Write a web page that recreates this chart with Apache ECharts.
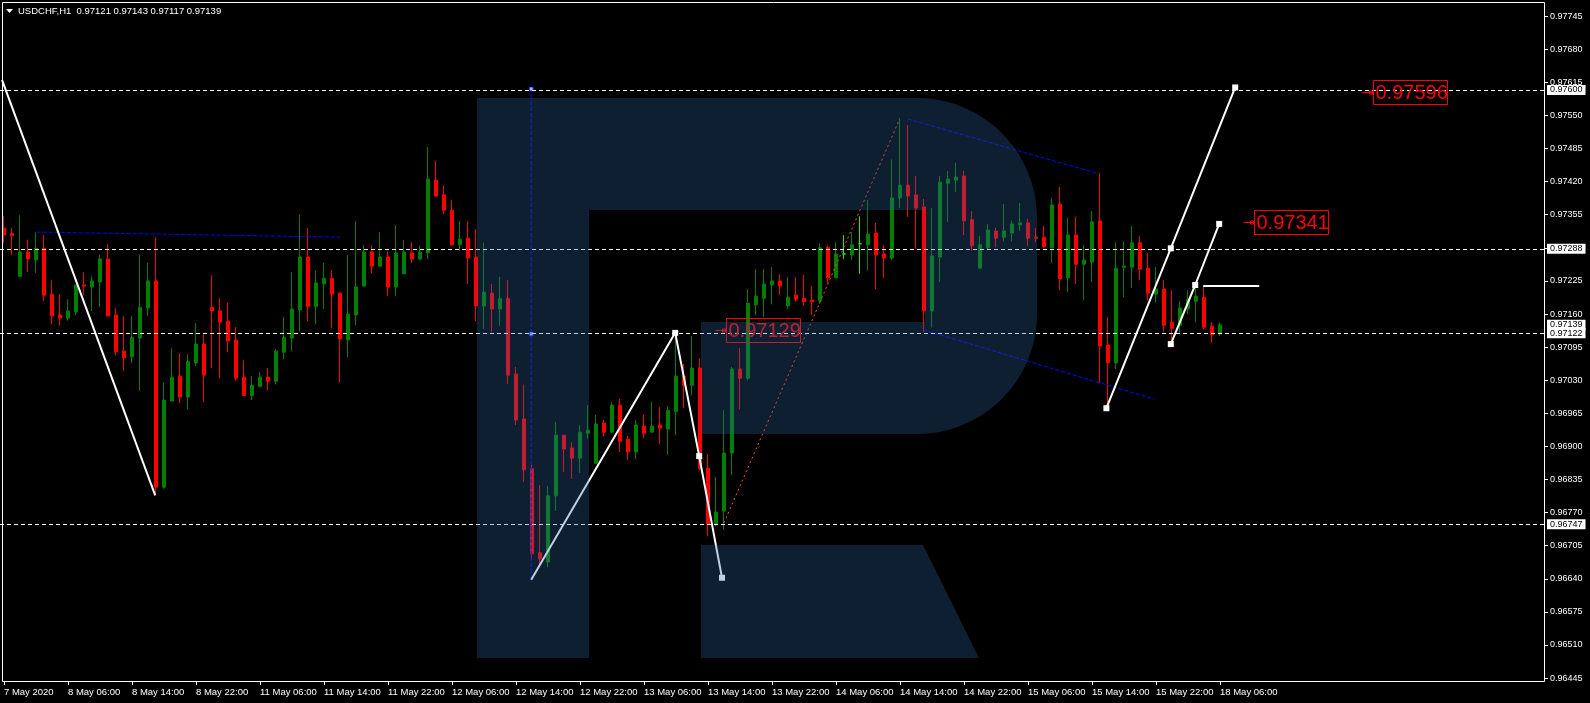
<!DOCTYPE html>
<html><head><meta charset="utf-8">
<script src="https://cdn.jsdelivr.net/npm/echarts@6/dist/echarts.min.js"></script>
<style>html,body{margin:0;padding:0;background:#000;}#c{width:1590px;height:703px;}</style>
</head><body><div id="c"></div>
<script>
// ---------- data ----------
const symbolName = 'USDCHF,H1';
const xTickLabels = ['7 May 2020','8 May 06:00','8 May 14:00','8 May 22:00','11 May 06:00','11 May 14:00','11 May 22:00','12 May 06:00','12 May 14:00','12 May 22:00','13 May 06:00','13 May 14:00','13 May 22:00','14 May 06:00','14 May 14:00','14 May 22:00','15 May 06:00','15 May 14:00','15 May 22:00','18 May 06:00'];
const yTickValues = [0.96445,0.96510,0.96575,0.96640,0.96705,0.96770,0.96835,0.96900,0.96965,0.97030,0.97095,0.97160,0.97225,0.97290,0.97355,0.97420,0.97485,0.97550,0.97615,0.97680,0.97745];

const opens = [0.97329,0.97318,0.97234,0.97282,0.97266,0.97289,0.97199,0.97158,0.97152,0.97164,0.97217,0.97213,0.97223,0.97268,0.97158,0.97087,0.97076,0.97113,0.97172,0.97225,
0.96820,0.96989,0.97038,0.96997,0.97064,0.97101,0.97173,0.97166,0.97146,0.97109,0.97036,0.97000,0.97018,0.97036,0.97028,0.97085,0.97113,0.97168,0.97272,0.97175,
0.97219,0.97230,0.97201,0.97109,0.97158,0.97215,0.97282,0.97254,0.97272,0.97213,0.97239,0.97280,0.97268,0.97280,0.97423,0.97394,0.97364,0.97296,0.97309,0.97272,
0.97176,0.97201,0.97170,0.97191,0.97042,0.96954,0.96856,0.96691,0.96673,0.96803,0.96922,0.96897,0.96877,0.96926,0.96867,0.96946,0.96928,0.96981,0.96914,0.96889,
0.96940,0.96928,0.96942,0.96934,0.96969,0.97038,0.97020,0.97054,0.96857,0.96747,0.96773,0.96887,0.97052,0.97034,0.97178,0.97191,0.97217,0.97225,0.97176,0.97197,
0.97191,0.97187,0.97186,0.97291,0.97231,0.97278,0.97276,0.97298,0.97296,0.97319,0.97278,0.97270,0.97388,0.97413,0.97394,0.97370,0.97166,0.97272,0.97417,0.97423,
0.97431,0.97345,0.97250,0.97290,0.97323,0.97311,0.97319,0.97335,0.97339,0.97311,0.97311,0.97290,0.97376,0.97231,0.97315,0.97258,0.97262,0.97343,0.97099,0.97064,
0.97252,0.97252,0.97300,0.97250,0.97199,0.97209,0.97144,0.97138,0.97170,0.97185,0.97193,0.97136,0.97121];
const closes = [0.97315,0.97314,0.97282,0.97268,0.97289,0.97197,0.97156,0.97152,0.97166,0.97217,0.97215,0.97225,0.97268,0.97156,0.97086,0.97074,0.97114,0.97173,0.97225,0.96820,
0.96991,0.97036,0.96997,0.97067,0.97101,0.97040,0.97166,0.97144,0.97107,0.97034,0.97000,0.97020,0.97036,0.97028,0.97087,0.97114,0.97170,0.97272,0.97175,0.97221,
0.97230,0.97199,0.97111,0.97160,0.97213,0.97282,0.97254,0.97272,0.97213,0.97280,0.97282,0.97268,0.97282,0.97425,0.97392,0.97364,0.97296,0.97307,0.97270,0.97176,
0.97203,0.97170,0.97190,0.97040,0.96952,0.96854,0.96689,0.96679,0.96803,0.96922,0.96895,0.96877,0.96928,0.96932,0.96944,0.96928,0.96981,0.96910,0.96889,0.96942,
0.96926,0.96940,0.96936,0.96971,0.97038,0.97020,0.97054,0.96857,0.96747,0.96771,0.96887,0.97052,0.97034,0.97181,0.97195,0.97219,0.97225,0.97215,0.97193,0.97189,
0.97184,0.97184,0.97290,0.97231,0.97278,0.97278,0.97296,0.97298,0.97317,0.97276,0.97270,0.97388,0.97413,0.97392,0.97368,0.97166,0.97274,0.97419,0.97425,0.97429,
0.97343,0.97294,0.97296,0.97325,0.97309,0.97323,0.97337,0.97339,0.97309,0.97309,0.97292,0.97374,0.97229,0.97315,0.97258,0.97266,0.97341,0.97097,0.97064,0.97250,
0.97254,0.97300,0.97248,0.97201,0.97209,0.97138,0.97132,0.97172,0.97189,0.97195,0.97134,0.97119,0.97139];
const lows = [0.97299,0.97276,0.97234,0.97243,0.97241,0.97186,0.97140,0.97137,0.97147,0.97158,0.97197,0.97166,0.97174,0.97156,0.97079,0.97048,0.97064,0.97009,0.97156,0.96804,
0.96817,0.96989,0.96985,0.96972,0.97058,0.96987,0.97054,0.97034,0.97085,0.97030,0.96999,0.96991,0.97016,0.97010,0.97022,0.97071,0.97087,0.97126,0.97146,0.97140,
0.97170,0.97132,0.97026,0.97075,0.97138,0.97213,0.97240,0.97254,0.97195,0.97195,0.97239,0.97260,0.97266,0.97268,0.97390,0.97356,0.97294,0.97284,0.97219,0.97146,
0.97131,0.97125,0.97137,0.97023,0.96942,0.96830,0.96677,0.96665,0.96663,0.96773,0.96850,0.96836,0.96848,0.96915,0.96867,0.96920,0.96926,0.96889,0.96873,0.96875,
0.96916,0.96928,0.96904,0.96883,0.96922,0.96975,0.97001,0.96853,0.96724,0.96743,0.96736,0.96844,0.96973,0.97030,0.97158,0.97154,0.97179,0.97197,0.97170,0.97185,
0.97176,0.97158,0.97180,0.97221,0.97231,0.97268,0.97266,0.97239,0.97246,0.97209,0.97231,0.97266,0.97368,0.97351,0.97288,0.97125,0.97134,0.97223,0.97341,0.97400,
0.97315,0.97284,0.97250,0.97286,0.97291,0.97303,0.97303,0.97323,0.97294,0.97301,0.97290,0.97260,0.97207,0.97203,0.97219,0.97187,0.97223,0.97024,0.96973,0.97052,
0.97193,0.97211,0.97227,0.97187,0.97183,0.97125,0.97099,0.97123,0.97160,0.97144,0.97130,0.97103,0.97117];
const highs = [0.97352,0.97329,0.97354,0.97306,0.97320,0.97315,0.97226,0.97199,0.97189,0.97217,0.97242,0.97234,0.97276,0.97297,0.97171,0.97156,0.97156,0.97276,0.97260,0.97311,
0.97026,0.97093,0.97083,0.97081,0.97142,0.97122,0.97236,0.97191,0.97183,0.97134,0.97069,0.97038,0.97046,0.97054,0.97091,0.97154,0.97242,0.97356,0.97329,0.97246,
0.97260,0.97246,0.97203,0.97276,0.97342,0.97295,0.97295,0.97321,0.97283,0.97335,0.97305,0.97301,0.97294,0.97488,0.97461,0.97413,0.97384,0.97343,0.97343,0.97327,
0.97300,0.97219,0.97233,0.97227,0.97056,0.97021,0.96865,0.96824,0.96822,0.96948,0.96922,0.96909,0.96942,0.96981,0.96962,0.96952,0.96987,0.96993,0.96920,0.96952,
0.96963,0.96987,0.96977,0.96979,0.97117,0.97062,0.97117,0.97073,0.96885,0.96840,0.96971,0.97056,0.97093,0.97209,0.97248,0.97248,0.97252,0.97238,0.97232,0.97232,
0.97237,0.97215,0.97299,0.97294,0.97301,0.97315,0.97321,0.97352,0.97384,0.97339,0.97296,0.97464,0.97545,0.97531,0.97431,0.97386,0.97368,0.97431,0.97441,0.97457,
0.97441,0.97362,0.97313,0.97337,0.97329,0.97376,0.97343,0.97378,0.97347,0.97329,0.97333,0.97388,0.97409,0.97349,0.97351,0.97296,0.97362,0.97437,0.97154,0.97301,
0.97303,0.97333,0.97313,0.97280,0.97252,0.97227,0.97207,0.97185,0.97207,0.97213,0.97215,0.97144,0.97143];

// horizontal levels (dashed white) and current price
const levelPrices = [0.97600, 0.97288, 0.97122, 0.96747];
const currentPrice = 0.97139;

// analyst drawings: [bar index, price]
const zigzagA = [[-0.25, 0.97620], [18.9, 0.96804]];
const zigzagB = [[65.9, 0.96638], [83.9, 0.97123], [86.9, 0.96881], [89.75, 0.96642]];
const forecastD = [[137.8, 0.96975], [145.85, 0.97289], [153.9, 0.97605]];
const forecastE = [[145.85, 0.97101], [148.9, 0.97217], [151.9, 0.97337]];
const flatF = [[149.9, 0.97215], [156.9, 0.97215]];
const blueLevel = [[4.1, 0.97321], [42, 0.97311]];
const blueVertical = [[65.9, 0.97602], [65.9, 0.96638]];
const blueVerticalMarks = [[65.9, 0.97602], [65.9, 0.97121]];
const channelUpper = [[113, 0.97543], [136.5, 0.97437]];
const channelLower = [[114.9, 0.97129], [143.75, 0.96993]];
const orangeRay = [[90, 0.96750], [111.9, 0.97541]];
const priceLabels = [{price: 0.97596, bar: 171.1}, {price: 0.97341, bar: 156.3}, {price: 0.97129, bar: 90.25}];

// ---------- chart ----------
const N = 193;
const cats = Array.from({length: N}, (_, i) => String(i));
const yMin = 0.9643925, yMax = 0.9777087;
const FONT = 'Liberation Sans';

const candleData = opens.map((o, i) => {
  const item = {value: [o, closes[i], lows[i], highs[i]]};
  if (o === closes[i]) item.itemStyle = {color: '#00ff00', color0: '#00ff00', borderColor: '#00ff00', borderColor0: '#00ff00'};
  return item;
});

function lineSeries(points, color, dash, width, markerFlags) {
  return {
    type: 'line', xAxisIndex: 1, yAxisIndex: 0, silent: true, animation: false,
    data: points.map((p, i) => ({value: p, symbol: (markerFlags && markerFlags[i]) ? 'rect' : 'none'})),
    symbolSize: 6, showSymbol: true,
    itemStyle: {color: color},
    lineStyle: {color: color, width: width, type: dash},
    z: 3
  };
}
const tickInt = (i) => i % 8 === 0 && i / 8 < xTickLabels.length;

const option = {
  backgroundColor: '#000',
  animation: false,
  textStyle: {fontFamily: FONT},
  grid: {left: 0, top: 3, width: 1544, height: 678, show: false, containLabel: false, outerBoundsMode: 'none'},
  xAxis: [{
    type: 'category', data: cats, boundaryGap: true,
    axisLine: {show: false, onZero: false},
    axisTick: {show: true, alignWithLabel: true, interval: tickInt, length: 4, lineStyle: {color: '#fff'}},
    axisLabel: {interval: tickInt, color: '#fff', fontSize: 9.5, fontFamily: FONT, align: 'left', margin: 6,
      formatter: (v, i) => xTickLabels[i / 8] || ''},
    splitLine: {show: false}
  }, {
    type: 'value', min: -0.5, max: N - 0.5, show: false, axisLine: {onZero: false}
  }],
  yAxis: [{
    type: 'value', position: 'right', min: yMin, max: yMax, scale: true,
    splitLine: {show: false}, axisLine: {show: false, onZero: false},
    axisTick: {show: true, length: 4, lineStyle: {color: '#fff'}, customValues: yTickValues},
    axisLabel: {color: '#fff', fontSize: 9, fontFamily: FONT, margin: 6, customValues: yTickValues,
      formatter: (v) => Number(v).toFixed(5)}
  }],
  series: [
    {
      type: 'candlestick', xAxisIndex: 0, yAxisIndex: 0, data: candleData, barWidth: 4, silent: true,
      itemStyle: {color: '#008000', color0: '#ff0000', borderColor: '#008000', borderColor0: '#ff0000', borderWidth: 1},
      markLine: {
        silent: true, symbol: ['none', 'none'], animation: false, precision: 5,
        lineStyle: {color: '#fff', type: [4, 3], width: 1},
        label: {position: 'end', distance: 3, backgroundColor: '#fff', color: '#000', fontSize: 9, fontFamily: FONT,
          padding: [1, 3, 0, 3], formatter: (p) => Number(p.value).toFixed(5)},
        data: [{yAxis: currentPrice, lineStyle: {color: 'rgba(0,0,0,0)', width: 0}}].concat(levelPrices.map(v => ({yAxis: v})))
      }
    },
    lineSeries(blueLevel, '#0000ff', [4, 2], 1),
    lineSeries(blueVertical, '#0000ff', [4, 2], 1),
    lineSeries(channelUpper, '#0000ff', [4, 2], 1),
    lineSeries(channelLower, '#0000ff', [4, 2], 1),
    lineSeries(orangeRay, '#ff5020', [2, 3], 1),
    lineSeries(zigzagA, '#ffffff', 'solid', 2),
    lineSeries(zigzagB, '#ffffff', 'solid', 2, [false, true, true, true]),
    lineSeries(forecastD, '#ffffff', 'solid', 2, [true, true, true]),
    lineSeries(forecastE, '#ffffff', 'solid', 2, [true, true, true]),
    lineSeries(flatF, '#ffffff', 'solid', 2),
    {
      type: 'scatter', xAxisIndex: 1, yAxisIndex: 0, silent: true, data: blueVerticalMarks,
      symbol: 'rect', symbolSize: 4, itemStyle: {color: '#d8e4ff', borderColor: '#0000ff', borderWidth: 1}, z: 4
    }
  ]
};
const chart = echarts.init(document.getElementById('c'));
chart.setOption(option);

// ---------- overlays (decoration & annotations) ----------
const px = (bar, price) => chart.convertToPixel({xAxisIndex: 1, yAxisIndex: 0}, [bar, price]);
const graphics = [];
priceLabels.forEach(l => {
  const p = px(l.bar, l.price);
  const x = Math.round(p[0]) + 0.5, yc = Math.round(p[1]) + 0.5;
  graphics.push({type: 'rect', silent: true, z: 10, shape: {x: x, y: yc - 12, width: 74, height: 24},
    style: {fill: 'none', stroke: '#ff0000', lineWidth: 1}});
  graphics.push({type: 'text', silent: true, z: 10, style: {text: l.price.toFixed(5), x: x + 2, y: yc + 1,
    fill: '#ff0000', font: '20px "' + FONT + '"', textVerticalAlign: 'middle'}});
  graphics.push({type: 'line', silent: true, z: 10, shape: {x1: x - 11, y1: yc, x2: x, y2: yc},
    style: {stroke: '#ff0000', lineWidth: 1}});
  graphics.push({type: 'rect', silent: true, z: 10, shape: {x: x - 4, y: yc - 1.5, width: 3, height: 3},
    style: {fill: 'none', stroke: '#ff0000', lineWidth: 1}});
});
// watermark logo (semi-transparent "R")
function arcPts(cx, cy, r, a0, a1, n) {
  const pts = [];
  for (let k = 0; k <= n; k++) { const a = a0 + (a1 - a0) * k / n; pts.push([cx + r * Math.cos(a), cy + r * Math.sin(a)]); }
  return pts;
}
const logoMain = [[477, 98], [917, 98]]
  .concat(arcPts(917, 218, 120, -Math.PI / 2, 0, 24))
  .concat(arcPts(917, 314, 120, 0, Math.PI / 2, 24))
  .concat([[701, 434], [701, 322], [925, 322], [925, 210], [589, 210], [589, 658], [477, 658]]);
const logoLeg = [[701, 545], [923, 545], [979, 658], [701, 658]];
const logoFill = 'rgba(49,100,165,0.306)';
graphics.push({type: 'polygon', silent: true, z: 50, shape: {points: logoMain}, style: {fill: logoFill}});
graphics.push({type: 'polygon', silent: true, z: 50, shape: {points: logoLeg}, style: {fill: logoFill}});
// frame
graphics.push({type: 'rect', silent: true, z: 60, shape: {x: 2.5, y: 2.5, width: 1542, height: 679},
  style: {fill: 'none', stroke: '#ffffff', lineWidth: 1}});
// header
const last = opens.length - 1;
graphics.push({type: 'polygon', silent: true, z: 60, shape: {points: [[6, 9], [13, 9], [9.5, 13]]}, style: {fill: '#ffffff'}});
graphics.push({type: 'text', silent: true, z: 60, style: {
  text: symbolName + '  ' + [opens[last], highs[last], lows[last], closes[last]].map(v => v.toFixed(5)).join(' '),
  x: 18, y: 11, fill: '#ffffff', font: '9.5px "' + FONT + '"', textVerticalAlign: 'middle'}});
chart.setOption({graphic: graphics});
</script>
</body></html>
